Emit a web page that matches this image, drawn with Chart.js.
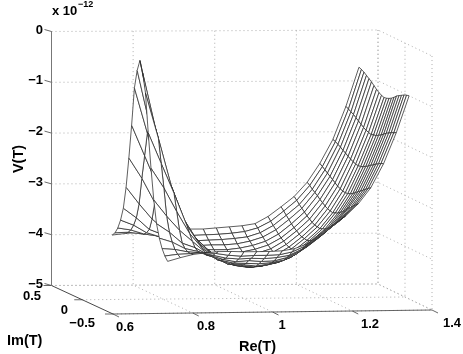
<!DOCTYPE html>
<html>
<head>
<meta charset="utf-8">
<style>
html, body { margin: 0; padding: 0; background: #fff; }
canvas { display: block; }
</style>
<script src="https://cdn.jsdelivr.net/npm/chart.js@4"></script>
</head>
<body>
<canvas id="chart-surface" width="463" height="354"></canvas>
<script>
const re_ticks = [0.6, 0.8, 1, 1.2, 1.4];
const im_ticks = [0.5, 0, -0.5];
const v_ticks = [0, -1, -2, -3, -4, -5];

const re_values = [0.743, 0.775, 0.807, 0.839, 0.870, 0.902, 0.934, 0.966, 0.998, 1.030,
    1.061, 1.093, 1.125, 1.157, 1.189, 1.221, 1.252, 1.284, 1.316, 1.348];
const im_values = [0.46, 0.414, 0.368, 0.322, 0.276, 0.23, 0.184, 0.138, 0.092, 0.046, 0,
    -0.046, -0.092, -0.138, -0.184, -0.23, -0.276, -0.322, -0.368, -0.414, -0.46];

// V(T) in units of 1e-12, one row per re value, one column per im value
const v_values = [
    [-3.99,-3.92,-3.80,-3.62,-3.36,-2.92,-2.32,-1.65,-0.89,-0.52,-0.30,-0.52,-0.89,-1.65,-2.32,-2.92,-3.36,-3.62,-3.80,-3.92,-4.00],
    [-3.96,-3.91,-3.84,-3.72,-3.55,-3.25,-2.72,-2.25,-1.78,-1.62,-1.55,-1.62,-1.78,-2.25,-2.71,-3.24,-3.53,-3.70,-3.82,-3.89,-3.93],
    [-3.94,-3.94,-3.92,-3.87,-3.78,-3.55,-3.20,-2.85,-2.72,-2.66,-2.60,-2.66,-2.72,-2.84,-3.18,-3.52,-3.75,-3.83,-3.87,-3.88,-3.87],
    [-3.94,-3.95,-3.96,-3.95,-3.88,-3.77,-3.63,-3.50,-3.40,-3.33,-3.30,-3.33,-3.39,-3.48,-3.61,-3.74,-3.84,-3.89,-3.89,-3.86,-3.84],
    [-3.92,-3.96,-4.01,-4.03,-4.03,-3.99,-3.93,-3.86,-3.79,-3.74,-3.72,-3.74,-3.78,-3.84,-3.90,-3.95,-3.98,-3.97,-3.94,-3.88,-3.82],
    [-3.90,-3.99,-4.06,-4.11,-4.14,-4.14,-4.12,-4.08,-4.03,-3.99,-3.98,-3.99,-4.02,-4.06,-4.09,-4.11,-4.09,-4.05,-4.00,-3.92,-3.82],
    [-3.88,-3.98,-4.06,-4.13,-4.18,-4.22,-4.24,-4.23,-4.21,-4.20,-4.19,-4.20,-4.20,-4.21,-4.22,-4.19,-4.15,-4.10,-4.02,-3.94,-3.83],
    [-3.88,-3.97,-4.05,-4.12,-4.19,-4.24,-4.27,-4.30,-4.31,-4.31,-4.31,-4.31,-4.30,-4.28,-4.25,-4.21,-4.16,-4.08,-4.01,-3.93,-3.83],
    [-3.86,-3.96,-4.04,-4.12,-4.19,-4.25,-4.29,-4.32,-4.34,-4.35,-4.35,-4.35,-4.34,-4.31,-4.28,-4.24,-4.17,-4.10,-4.02,-3.93,-3.83],
    [-3.84,-3.94,-4.02,-4.10,-4.16,-4.21,-4.26,-4.29,-4.32,-4.33,-4.33,-4.33,-4.32,-4.28,-4.25,-4.20,-4.15,-4.09,-4.00,-3.92,-3.82],
    [-3.82,-3.91,-3.99,-4.05,-4.11,-4.16,-4.21,-4.25,-4.27,-4.28,-4.29,-4.28,-4.26,-4.23,-4.19,-4.15,-4.10,-4.03,-3.96,-3.87,-3.78],
    [-3.78,-3.84,-3.91,-3.97,-4.03,-4.08,-4.13,-4.17,-4.20,-4.22,-4.22,-4.21,-4.18,-4.14,-4.09,-4.03,-3.98,-3.91,-3.84,-3.76,-3.69],
    [-3.64,-3.71,-3.77,-3.83,-3.89,-3.94,-3.98,-4.02,-4.05,-4.06,-4.07,-4.05,-4.02,-3.97,-3.92,-3.87,-3.80,-3.73,-3.65,-3.57,-3.49],
    [-3.45,-3.51,-3.57,-3.63,-3.69,-3.74,-3.78,-3.82,-3.85,-3.86,-3.87,-3.85,-3.82,-3.78,-3.73,-3.68,-3.61,-3.54,-3.47,-3.39,-3.32],
    [-3.25,-3.30,-3.36,-3.41,-3.46,-3.51,-3.55,-3.59,-3.62,-3.63,-3.64,-3.62,-3.60,-3.56,-3.51,-3.46,-3.40,-3.34,-3.28,-3.21,-3.15],
    [-2.97,-3.01,-3.06,-3.10,-3.14,-3.19,-3.23,-3.27,-3.30,-3.32,-3.33,-3.31,-3.29,-3.25,-3.21,-3.16,-3.10,-3.06,-3.01,-2.96,-2.91],
    [-2.60,-2.64,-2.68,-2.72,-2.76,-2.80,-2.84,-2.88,-2.91,-2.93,-2.94,-2.93,-2.91,-2.88,-2.84,-2.80,-2.76,-2.72,-2.68,-2.64,-2.60],
    [-2.13,-2.15,-2.18,-2.21,-2.25,-2.28,-2.32,-2.35,-2.38,-2.40,-2.41,-2.40,-2.38,-2.35,-2.32,-2.28,-2.25,-2.21,-2.18,-2.15,-2.13],
    [-1.48,-1.51,-1.54,-1.57,-1.61,-1.65,-1.69,-1.73,-1.76,-1.78,-1.80,-1.78,-1.77,-1.74,-1.71,-1.67,-1.63,-1.60,-1.57,-1.55,-1.52],
    [-0.71,-0.73,-0.76,-0.80,-0.84,-0.88,-0.93,-0.98,-1.02,-1.05,-1.07,-1.06,-1.04,-1.01,-0.97,-0.92,-0.89,-0.86,-0.83,-0.81,-0.80]
];

// box view: re/im floor plane onto the page, v lifts straight up
function project(re, im, v) {
    const s = (re - 0.6) / 0.8;
    const t = 0.5 - im;
    return {
        x: 51.5 + 326.5 * s + 61.5 * t - 7.5 * s * t,
        y: 285.5 - 1.5 * s + 28.5 * t - 2.5 * s * t - 50.8 * (v + 5)
    };
}

const datasets = [];

function addLine(points, color, width, dash) {
    datasets.push({
        data: points,
        borderColor: color,
        borderWidth: width,
        borderDash: dash || [],
        fill: false,
        pointRadius: 0,
        tension: 0
    });
}

// first dataset is painted last, so the mesh goes in front-most first
for (let k = 0; k < re_values.length - 1; k++) {
    for (let j = im_values.length - 2; j >= 0; j--) {
        datasets.push({
            data: [
                project(re_values[k], im_values[j], v_values[k][j]),
                project(re_values[k + 1], im_values[j], v_values[k + 1][j]),
                project(re_values[k + 1], im_values[j + 1], v_values[k + 1][j + 1]),
                project(re_values[k], im_values[j + 1], v_values[k][j + 1]),
                project(re_values[k], im_values[j], v_values[k][j])
            ],
            borderColor: '#2a2a2a',
            borderWidth: 0.75,
            backgroundColor: '#fff',
            fill: 'shape',
            pointRadius: 0,
            tension: 0
        });
    }
}

const re_min = re_ticks[0], re_max = re_ticks[re_ticks.length - 1];
const im_max = im_ticks[0], im_min = im_ticks[im_ticks.length - 1];
const v_top = v_ticks[0], v_bottom = v_ticks[v_ticks.length - 1];
const dotted = ['#999', 0.8, [1, 3]];

// axes and ticks
addLine([project(re_min, im_max, v_top), project(re_min, im_max, v_bottom)], '#777', 1);
addLine([project(re_min, im_max, v_bottom), project(re_min, im_min, v_bottom)], '#333', 0.9);
addLine([project(re_min, im_min, v_bottom), project(re_max, im_min, v_bottom)], '#555', 0.9);
v_ticks.forEach(v => {
    const p = project(re_min, im_max, v);
    addLine([p, {x: p.x - 7, y: p.y - 2}], '#444', 0.8);
});
re_ticks.forEach(re => {
    const p = project(re, im_min, v_bottom);
    addLine([p, {x: p.x + 6, y: p.y + 3}], '#444', 0.8);
});
im_ticks.forEach(im => {
    const p = project(re_min, im, v_bottom);
    addLine([p, {x: p.x - 8, y: p.y}], '#444', 0.8);
});

// dotted grid on the two back walls and the floor
v_ticks.forEach(v => {
    addLine([project(re_min, im_max, v), project(re_max, im_max, v), project(re_max, im_min, v)], ...dotted);
});
re_ticks.forEach(re => {
    if (re !== re_min) addLine([project(re, im_max, v_top), project(re, im_max, v_bottom), project(re, im_min, v_bottom)], ...dotted);
});
im_ticks.forEach(im => {
    addLine([project(re_min, im, v_bottom), project(re_max, im, v_bottom), project(re_max, im, v_top)], ...dotted);
});

function minus(n) {
    return String(n).replace('-', '\u2212');
}

const re_label_spots = [[125, 327], [206, 326], [282, 325], [370, 324], [452, 323]];
const im_label_spots = [[41, 296], [68, 310], [95, 323]];

const textPlugin = {
    id: 'textPlugin',
    afterDraw(chart) {
        const ctx = chart.ctx;
        ctx.save();
        ctx.fillStyle = '#000';
        ctx.textBaseline = 'middle';
        ctx.font = 'bold 13px "Liberation Sans"';

        ctx.textAlign = 'right';
        v_ticks.forEach(v => {
            const p = project(re_min, im_max, v);
            ctx.fillText(minus(v), 43, p.y - 1.5);
        });
        im_ticks.forEach((im, i) => {
            ctx.fillText(minus(im), im_label_spots[i][0], im_label_spots[i][1]);
        });

        ctx.textAlign = 'center';
        re_ticks.forEach((re, i) => {
            ctx.fillText(minus(re === 1 ? 1 : re.toFixed(1)), re_label_spots[i][0], re_label_spots[i][1]);
        });

        ctx.textAlign = 'left';
        ctx.fillText('x 10', 52, 11);
        ctx.font = 'bold 9px "Liberation Sans"';
        ctx.fillText('\u221212', 78, 5);

        ctx.font = 'bold 14.5px "Liberation Sans"';
        ctx.fillText('Im(T)', 7, 341);
        ctx.fillText('Re(T)', 239, 347);
        ctx.translate(18.5, 159);
        ctx.rotate(-Math.PI / 2);
        ctx.textAlign = 'center';
        ctx.fillText('V(T)', 0, 0);
        ctx.restore();
    }
};

const context_chart_surface = document.getElementById("chart-surface").getContext('2d');
const chart_surface = new Chart(context_chart_surface, {
    type: 'line',
    plugins: [textPlugin],
    data: { datasets: datasets },
    options: {
        responsive: false,
        animation: false,
        events: [],
        layout: { padding: 0 },
        plugins: {
            legend: { display: false },
            tooltip: { enabled: false },
            filler: { propagate: false }
        },
        scales: {
            x: { type: 'linear', display: false, min: 0, max: 463 },
            y: { type: 'linear', display: false, min: 0, max: 354, reverse: true }
        }
    }
});
</script>
</body>
</html>
